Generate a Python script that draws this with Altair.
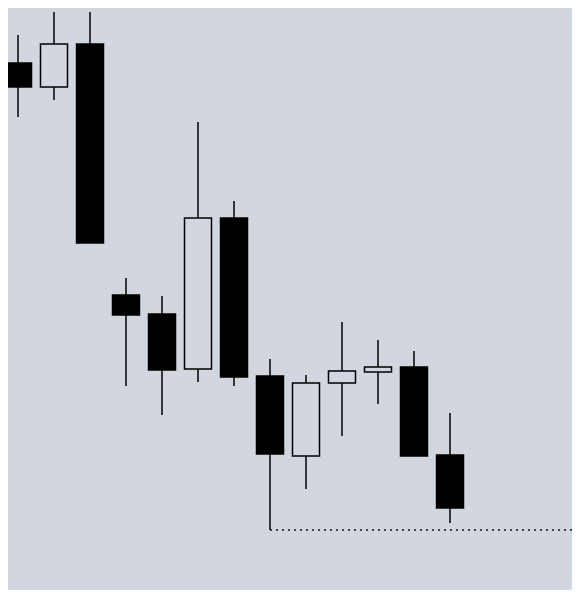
import altair as alt
import pandas as pd

idx = list(range(13))
opens  = [537, 513, 556, 305, 286, 231, 382, 224, 144, 217, 228, 233, 145]
closes = [513, 556, 357, 285, 230, 382, 223, 146, 217, 229, 233, 144, 92]
highs  = [565, 588, 588, 322, 304, 478, 399, 241, 225, 278, 260, 249, 187]
lows   = [483, 500, 357, 214, 185, 218, 214, 70, 111, 164, 196, 144, 77]

BG = "#d2d6df"
W, H = 564, 582

df = pd.DataFrame({"i": idx, "open": opens, "close": closes, "high": highs, "low": lows})
df["dir"] = ["down" if c < o else "up" for o, c in zip(opens, closes)]

xs = alt.Scale(domain=[-10 / 36, (W - 10) / 36], nice=False, zero=False, padding=0)
ys = alt.Scale(domain=[10, 592], nice=False, zero=False, padding=0)

base = alt.Chart(df).encode(
    x=alt.X("i:Q", scale=xs, axis=None)
)

wicks = base.mark_rule(color="black", strokeWidth=1.5).encode(
    y=alt.Y("low:Q", scale=ys, axis=None),
    y2="high:Q",
)

bodies = base.mark_bar(size=27, stroke="black", strokeWidth=1.5).encode(
    y=alt.Y("open:Q", scale=ys, axis=None),
    y2="close:Q",
    fill=alt.Fill("dir:N", scale=alt.Scale(domain=["down", "up"], range=["black", BG]), legend=None),
)

last_low_i = [7]
last_low_v = [70]
line_df = pd.DataFrame({"i": last_low_i, "v": last_low_v})
dotted = alt.Chart(line_df).mark_rule(color="#3e424a", strokeWidth=2, strokeDash=[2, 4]).encode(
    x=alt.X("i:Q", scale=xs, axis=None),
    x2=alt.value(W),
    y=alt.Y("v:Q", scale=ys, axis=None),
)

chart = alt.layer(dotted, wicks, bodies).properties(
    width=W, height=H, background=BG, padding=0,
    autosize=alt.AutoSizeParams(type="none")
).configure_view(stroke=None, fill=BG)

chart.save("out.html", embed_options={"renderer": "svg", "actions": False})
